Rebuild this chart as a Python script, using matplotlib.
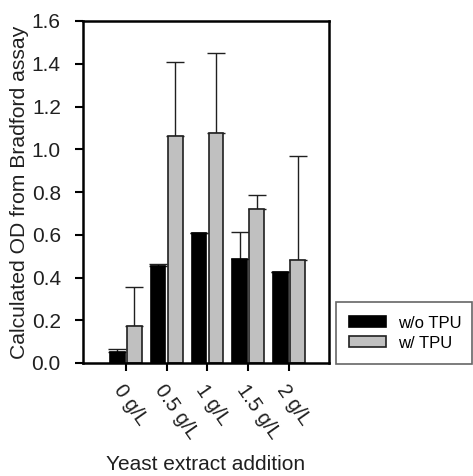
import numpy as np
from matplotlib import pyplot as plt

plt.rcParams['font.family'] = ['Liberation Sans', 'DejaVu Sans']

# values
doses = ['0 g/L', '0.5 g/L', '1 g/L', '1.5 g/L', '2 g/L']
od_without = [0.050, 0.455, 0.607, 0.485, 0.424]
err_without = [0.014, 0.010, 0.0, 0.129, 0.0]
od_with = [0.173, 1.062, 1.075, 0.722, 0.483]
err_with = [0.181, 0.345, 0.374, 0.063, 0.485]

fig = plt.figure(figsize=(4.73, 4.76), dpi=100)
ax = fig.add_axes([83 / 473, 113 / 476, 246 / 473, 342 / 476])

x = np.arange(len(doses))
w = 0.36
off = 0.21
zeros = np.zeros(len(doses))

ax.bar(x - off, od_without, w, color='black', edgecolor='black', linewidth=1.2,
       label='w/o TPU', zorder=2)
ax.bar(x + off, od_with, w, color='#c0c0c0', edgecolor='#202020', linewidth=1.2,
       label='w/ TPU', zorder=2)

# only the upper half of each error bar is drawn
ax.errorbar(x - off, od_without, yerr=[zeros, err_without], fmt='none',
            ecolor='#202020', elinewidth=1.0, capsize=6.5, capthick=1.0, zorder=1)
ax.errorbar(x + off, od_with, yerr=[zeros, err_with], fmt='none',
            ecolor='#202020', elinewidth=1.0, capsize=6.5, capthick=1.0, zorder=1)

ax.set_xlim(-1.05, 4.98)
ax.set_ylim(0, 1.6)
ax.set_yticks(np.arange(0, 1.61, 0.2))
ax.set_yticklabels([f'{v:.1f}' for v in np.arange(0, 1.61, 0.2)], fontsize=15,
                   color='#202020')
ax.set_xticks(x)
ax.set_xticklabels(doses, fontsize=14.5, rotation=-55, ha='left', va='top',
                   rotation_mode='anchor', color='#202020')
ax.tick_params(axis='both', direction='out', length=6, width=1.5, color='black')
ax.tick_params(axis='y', pad=10)
ax.tick_params(axis='x', pad=7)
for s in ax.spines.values():
    s.set_linewidth(1.8)

ax.set_ylabel('Calculated OD from Bradford assay', fontsize=15.2, color='#202020',
              labelpad=1.5)
ax.set_xlabel('Yeast extract addition', fontsize=15, color='#202020', labelpad=9)

leg = fig.legend(loc='lower left', bbox_to_anchor=(336 / 473, 112 / 476, 136 / 473, 66 / 476),
                 bbox_transform=fig.transFigure, mode='expand', fontsize=12,
                 frameon=True, fancybox=False, edgecolor='#404040',
                 handlelength=2.2, handleheight=0.66, borderpad=0.8, labelspacing=0.3,
                 handletextpad=0.7, borderaxespad=0)
leg.get_frame().set_linewidth(1.2)

fig.savefig('out.png', dpi=100)
